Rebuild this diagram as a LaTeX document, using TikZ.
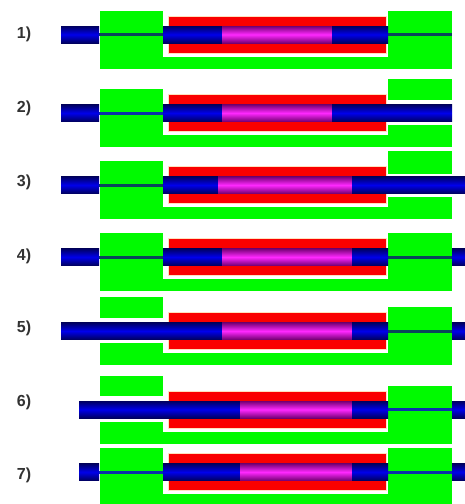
\documentclass[tikz,border=0pt]{standalone}
\usepackage{fontspec}
\setmainfont{Liberation Sans}
\begin{document}
\definecolor{grnfill}{RGB}{0,250,0}
\definecolor{redfill}{RGB}{250,0,0}
\definecolor{redrim}{RGB}{255,225,190}
\definecolor{rodedge}{RGB}{0,0,95}
\definecolor{rodmid}{RGB}{0,0,235}
\definecolor{coreedge}{RGB}{115,0,115}
\definecolor{coremid}{RGB}{255,40,255}
\definecolor{wireteal}{RGB}{10,70,90}
\definecolor{wireblue}{RGB}{10,50,170}
\definecolor{labelgray}{RGB}{50,50,50}
\begin{tikzpicture}[x=1pt,y=-1pt,
  grn/.style={fill=grnfill,draw=white,line width=0.7pt},
  jacket/.style={fill=redfill,draw=redrim,line width=0.6pt},
  rod/.style={top color=rodedge,bottom color=rodedge,middle color=rodmid},
  core/.style={top color=coreedge,bottom color=coreedge,middle color=coremid},
  wire/.style={draw=wireteal,line width=3pt},
  wireb/.style={draw=wireblue,line width=3pt},
  lbl/.style={font=\bfseries\fontsize{16}{16}\selectfont,text=labelgray,inner sep=0pt}]
\useasboundingbox (0,0) rectangle (465,504);
\fill[white] (0,0) rectangle (465,504);

% ---- 1) both end blocks closed
\begin{scope}[shift={(0,34.5)}]
  \node[lbl] (l1) at (24,0) {1)};
  \path[grn] (99,-24.5) -- (163,-24.5) -- (163,21.5) -- (387,21.5) -- (387,-24.5) -- (452,-24.5) -- (452,34.5) -- (99,34.5) -- cycle;
  \path[jacket] (168,-18.5) rectangle (386,18.5);
  \path[wire] (99,0) -- (163,0);
  \path[wire] (388,0) -- (452,0);
  \path[rod] (61,-8.5) rectangle (99,8.5);
  \path[rod] (163,-8.5) rectangle (222,8.5);
  \path[core] (222,-8.5) rectangle (332,8.5);
  \path[rod] (332,-8.5) rectangle (388,8.5);
\end{scope}

% ---- 2) right block opened, rod pushed through
\begin{scope}[shift={(0,113)}]
  \node[lbl] (l2) at (24,-5) {2)};
  \path[grn] (99,-24.5) -- (163,-24.5) -- (163,21.5) -- (387,21.5) -- (387,11) -- (452,11) -- (452,34.5) -- (99,34.5) -- cycle;
  \path[grn] (387,-34.5) rectangle (452,-13);
  \path[jacket] (168,-18.5) rectangle (386,18.5);
  \path[wireb] (99,0) -- (163,0);
  \path[rod] (61,-8.5) rectangle (99,8.5);
  \path[rod] (163,-8.5) rectangle (222,8.5);
  \path[core] (222,-8.5) rectangle (332,8.5);
  \path[rod] (332,-8.5) rectangle (452,8.5);
\end{scope}

% ---- 3) right block opened, rod out past the edge
\begin{scope}[shift={(0,185)}]
  \node[lbl] (l3) at (24,-3) {3)};
  \path[grn] (99,-24.5) -- (163,-24.5) -- (163,21.5) -- (387,21.5) -- (387,11) -- (452,11) -- (452,34.5) -- (99,34.5) -- cycle;
  \path[grn] (387,-34.5) rectangle (452,-11);
  \path[jacket] (168,-18.5) rectangle (386,18.5);
  \path[wire] (99,0) -- (163,0);
  \path[rod] (61,-8.5) rectangle (99,8.5);
  \path[rod] (163,-8.5) rectangle (218,8.5);
  \path[core] (218,-8.5) rectangle (352,8.5);
  \path[rod] (352,-8.5) rectangle (465,8.5);
\end{scope}

% ---- 4) both blocks closed again
\begin{scope}[shift={(0,257)}]
  \node[lbl] (l4) at (24,-1) {4)};
  \path[grn] (99,-24.5) -- (163,-24.5) -- (163,21.5) -- (387,21.5) -- (387,-24.5) -- (452,-24.5) -- (452,34.5) -- (99,34.5) -- cycle;
  \path[jacket] (168,-18.5) rectangle (386,18.5);
  \path[wire] (99,0) -- (163,0);
  \path[wire] (388,0) -- (452,0);
  \path[rod] (61,-8.5) rectangle (99,8.5);
  \path[rod] (163,-8.5) rectangle (222,8.5);
  \path[core] (222,-8.5) rectangle (352,8.5);
  \path[rod] (352,-8.5) rectangle (388,8.5);
  \path[rod] (452,-8.5) rectangle (465,8.5);
\end{scope}

% ---- 5) left block opened, rod pushed through
\begin{scope}[shift={(0,331)}]
  \node[lbl] (l5) at (24,-3) {5)};
  \path[grn] (99,11) -- (163,11) -- (163,21.5) -- (387,21.5) -- (387,-24.5) -- (452,-24.5) -- (452,34.5) -- (99,34.5) -- cycle;
  \path[grn] (99,-34.5) rectangle (163,-13);
  \path[jacket] (168,-18.5) rectangle (386,18.5);
  \path[wire] (388,0) -- (452,0);
  \path[rod] (61,-8.5) rectangle (222,8.5);
  \path[core] (222,-8.5) rectangle (352,8.5);
  \path[rod] (352,-8.5) rectangle (388,8.5);
  \path[rod] (452,-8.5) rectangle (465,8.5);
\end{scope}

% ---- 6) left block opened, rod advanced
\begin{scope}[shift={(0,409.5)}]
  \node[lbl] (l6) at (24,-7) {6)};
  \path[grn] (99,11.5) -- (163,11.5) -- (163,21.5) -- (387,21.5) -- (387,-24.5) -- (452,-24.5) -- (452,34.5) -- (99,34.5) -- cycle;
  \path[grn] (99,-34.5) rectangle (163,-13.5);
  \path[jacket] (168,-18.5) rectangle (386,18.5);
  \path[wireb] (388,0) -- (452,0);
  \path[rod] (79,-8.5) rectangle (240,8.5);
  \path[core] (240,-8.5) rectangle (352,8.5);
  \path[rod] (352,-8.5) rectangle (388,8.5);
  \path[rod] (452,-8.5) rectangle (465,8.5);
\end{scope}

% ---- 7) both blocks closed, final position
\begin{scope}[shift={(0,472)}]
  \node[lbl] (l7) at (24,3) {7)};
  \path[grn] (99,-24.5) -- (163,-24.5) -- (163,21.5) -- (387,21.5) -- (387,-24.5) -- (452,-24.5) -- (452,34.5) -- (99,34.5) -- cycle;
  \path[jacket] (168,-18.5) rectangle (386,18.5);
  \path[wireb] (99,0) -- (163,0);
  \path[wireb] (388,0) -- (452,0);
  \path[rod] (79,-8.5) rectangle (99,8.5);
  \path[rod] (163,-8.5) rectangle (240,8.5);
  \path[core] (240,-8.5) rectangle (352,8.5);
  \path[rod] (352,-8.5) rectangle (388,8.5);
  \path[rod] (452,-8.5) rectangle (465,8.5);
\end{scope}
\end{tikzpicture}
\end{document}
